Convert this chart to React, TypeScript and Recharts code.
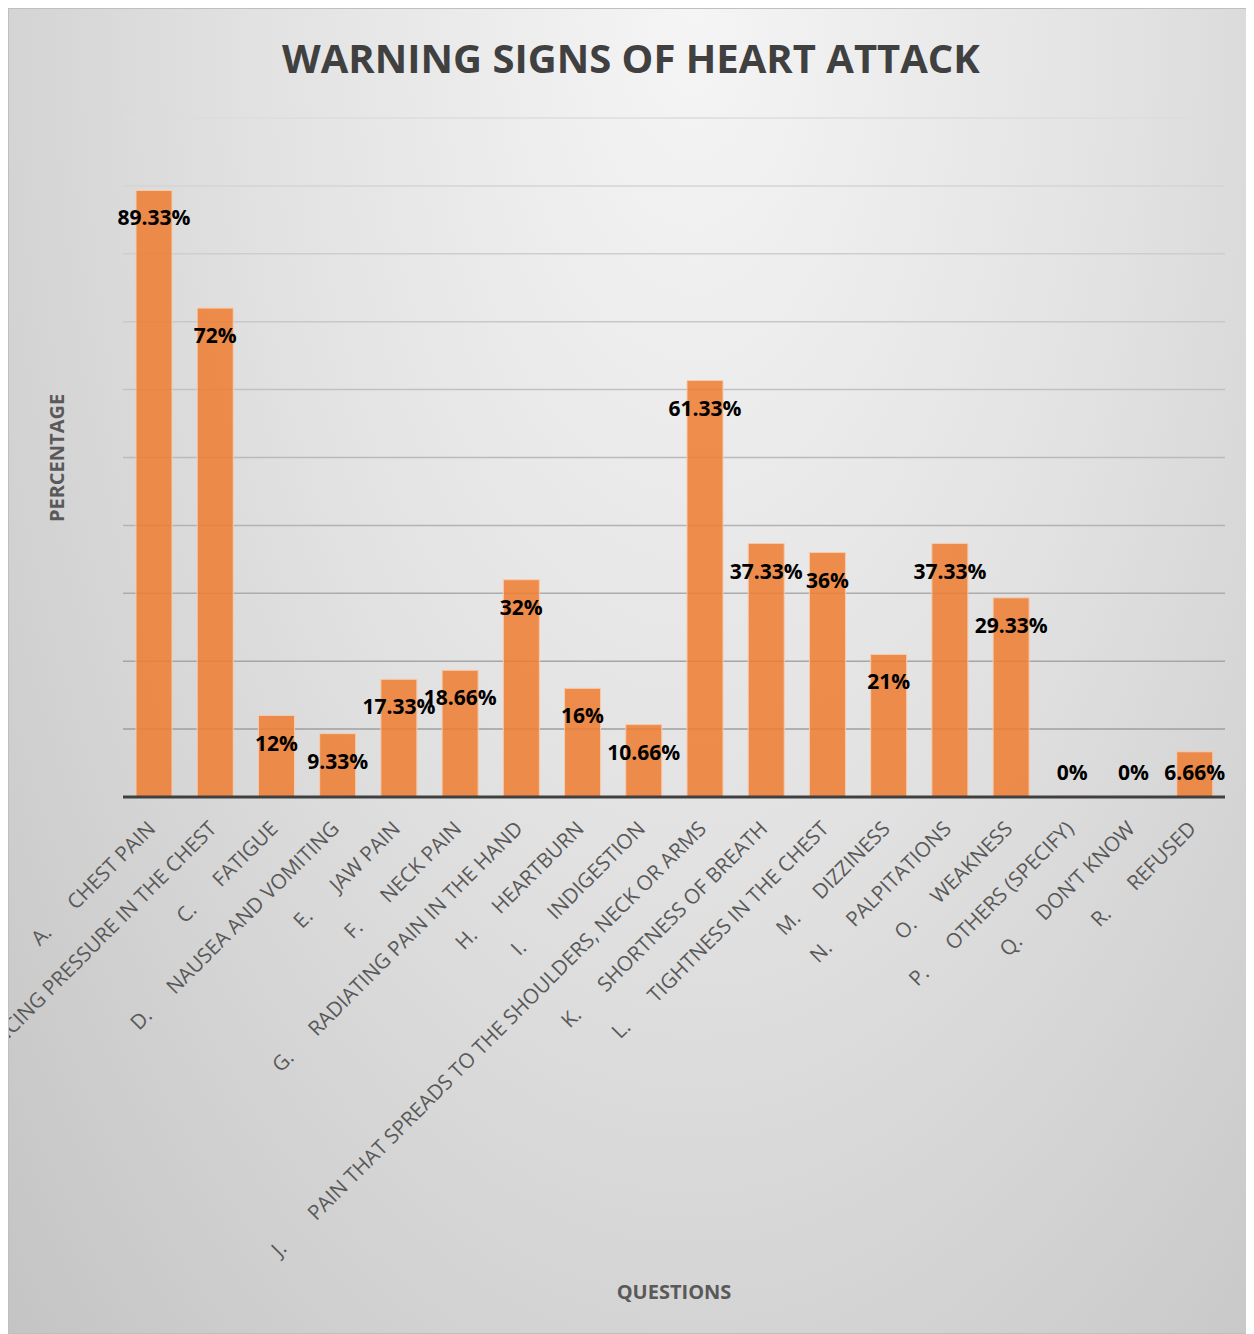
import React from 'react';
import { BarChart, Bar, XAxis, YAxis, CartesianGrid, LabelList } from 'recharts';

const categoryLetters = ['A.', 'B.', 'C.', 'D.', 'E.', 'F.', 'G.', 'H.', 'I.', 'J.', 'K.', 'L.', 'M.', 'N.', 'O.', 'P.', 'Q.', 'R.'];
const questionNames = [
  'CHEST PAIN',
  'EXPERIENCING PRESSURE IN THE CHEST',
  'FATIGUE',
  'NAUSEA AND VOMITING',
  'JAW PAIN',
  'NECK PAIN',
  'RADIATING PAIN IN THE HAND',
  'HEARTBURN',
  'INDIGESTION',
  'PAIN THAT SPREADS TO THE SHOULDERS, NECK OR ARMS',
  'SHORTNESS OF BREATH',
  'TIGHTNESS IN THE CHEST',
  'DIZZINESS',
  'PALPITATIONS',
  'WEAKNESS',
  'OTHERS (SPECIFY)',
  'DON\u2019T KNOW',
  'REFUSED',
];
const percentages = [89.33, 72, 12, 9.33, 17.33, 18.66, 32, 16, 10.66, 61.33, 37.33, 36, 21, 37.33, 29.33, 0, 0, 6.66];
const yTicks = [0, 10, 20, 30, 40, 50, 60, 70, 80, 90, 100];

const data = categoryLetters.map((l, i) => ({ key: l, name: questionNames[i], value: percentages[i] }));

const TICK_FONT = 20.6;
let measureCtx: CanvasRenderingContext2D | null = null;
function measure(text: string): number {
  if (!measureCtx) {
    const c = document.createElement('canvas');
    measureCtx = c.getContext('2d');
  }
  if (!measureCtx) return text.length * TICK_FONT * 0.5;
  measureCtx.font = `${TICK_FONT}px "Open Sans"`;
  return measureCtx.measureText(text).width;
}

const XTick = (props: any) => {
  const { x, y, payload, index } = props;
  const letter = payload.value as string;
  const name = questionNames[index] ?? '';
  const gap = 51 - measure(letter);
  return (
    <g transform={`translate(${x + 3},${y + 33})`}>
      <text transform="rotate(-45)" textAnchor="end" fontFamily='"Open Sans", sans-serif' fontSize={TICK_FONT} fill="#595959">
        <tspan>{letter}</tspan>
        <tspan dx={gap}>{name}</tspan>
      </text>
    </g>
  );
};

const GridLine = (props: any) => {
  const { x1, x2, y1, y2, index } = props;
  if (y1 === undefined) return null;
  // shade lines darker toward the bottom of the plot
  const top = 109;
  const bottom = 788;
  const t = Math.max(0, Math.min(1, (y1 - top) / (bottom - top)));
  const v = Math.round(220 - t * 68);
  return <line key={`g-${index}`} x1={x1} x2={x2} y1={y1} y2={y2} stroke={`rgb(${v},${v},${v})`} strokeWidth={1.5} />;
};

const renderValueLabel = (props: any) => {
  const { x, y, width, height, value } = props;
  const cx = Number(x) + Number(width) / 2;
  const bottom = Number(y) + Number(height);
  const ly = Math.min(Number(y) + 27, bottom - 25);
  return (
    <text x={cx} y={ly} textAnchor="middle" dominantBaseline="central" fontFamily='"Open Sans", sans-serif' fontWeight={700} fontSize={21} fill="#000">
      {`${value}%`}
    </text>
  );
};

export default function App() {
  return (
    <div
      style={{
        position: 'relative',
        width: 1246,
        height: 1326,
        boxSizing: 'border-box',
        border: '1px solid #bfbfbf',
        background: 'radial-gradient(farthest-corner at 55% 0%, #f5f5f5 0%, #e2e2e2 45%, #c4c4c4 100%)',
        overflow: 'hidden',
        fontFamily: '"Open Sans", sans-serif',
      }}
    >
      <div
        style={{
          position: 'absolute',
          left: 0,
          width: 1244,
          top: 29,
          textAlign: 'center',
          fontSize: 40,
          lineHeight: 1,
          fontWeight: 700,
          color: '#404040',
          whiteSpace: 'nowrap',
        }}
      >
        WARNING SIGNS OF HEART ATTACK
      </div>
      <div
        style={{
          position: 'absolute',
          left: 48,
          top: 449,
          transform: 'translate(-50%, -50%) rotate(-90deg)',
          fontSize: 20,
          lineHeight: 1,
          fontWeight: 700,
          color: '#595959',
          whiteSpace: 'nowrap',
        }}
      >
        PERCENTAGE
      </div>
      <div
        style={{
          position: 'absolute',
          left: 665,
          top: 1283,
          transform: 'translate(-50%, -50%)',
          fontSize: 20,
          lineHeight: 1,
          fontWeight: 700,
          color: '#595959',
          whiteSpace: 'nowrap',
        }}
      >
        QUESTIONS
      </div>
      <BarChart
        width={1244}
        height={1324}
        data={data}
        margin={{ top: 109, right: 28, left: 114, bottom: 535 }}
        style={{ position: 'absolute', left: 0, top: 0 }}
      >
        <CartesianGrid vertical={false} horizontal={<GridLine />} />
        <YAxis domain={[0, 100]} ticks={yTicks} width={0} hide />
        <Bar
          dataKey="value"
          barSize={36}
          fill="#ED7D31"
          fillOpacity={0.86}
          stroke="#F8CBAD"
          strokeWidth={1}
          minPointSize={(v: number) => (v === 0 ? 1 : 0)}
          isAnimationActive={false}
        >
          <LabelList dataKey="value" content={renderValueLabel} />
        </Bar>
        <XAxis
          dataKey="key"
          interval={0}
          height={1}
          tickSize={0}
          tickMargin={0}
          tick={<XTick />}
          axisLine={{ stroke: '#404040', strokeWidth: 3 }}
          tickLine={false}
        />
      </BarChart>
    </div>
  );
}
